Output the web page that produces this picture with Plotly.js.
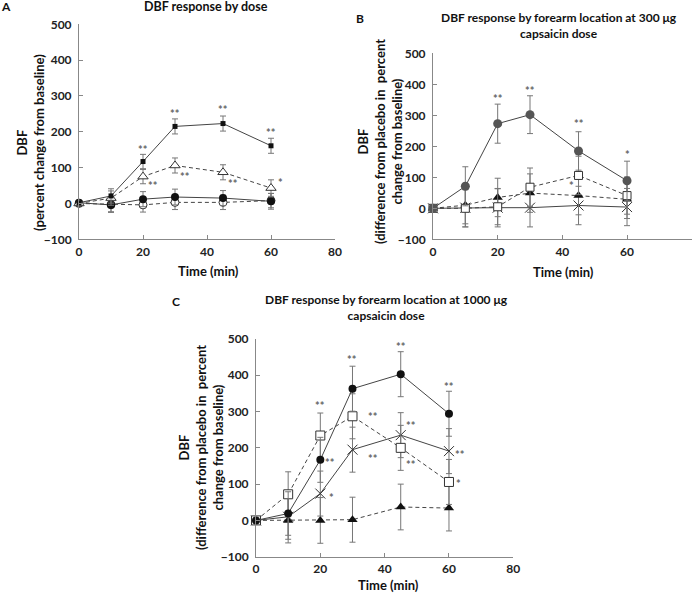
<!DOCTYPE html>
<html>
<head>
<meta charset="utf-8">
<script src="https://cdn.plot.ly/plotly-3.0.1.min.js"></script>
<style>
  html, body { margin: 0; padding: 0; background: #fff; }
  #myDiv { width: 697px; height: 596px; }
</style>
</head>
<body>
<div id="myDiv"></div>
<script>
// sampling times (min)
const timeMin = [0, 10, 20, 30, 45, 60];

// Panel A - DBF response by dose (percent change from baseline)
const aDose1 = [2, 21, 117, 215, 223, 161];
const aDose1Err = [0, 20, 20, 21, 21, 21];
const aDose2 = [0, 15, 75, 106, 87, 43];
const aDose2Err = [0, 20, 20, 21, 21, 23];
const aDose3 = [2, -4, 12, 18, 15, 6];
const aDose3Err = [0, 21, 21, 22, 21, 22];
const aPlacebo = [0, -3, -4, 3, 3, 8];
const aPlaceboErr = [0, 20, 20, 20, 20, 20];

// Panel B - by forearm location, 300 ug
const bLoc1 = [0, 71, 273, 302, 185, 89];
const bLoc1Err = [0, 63, 63, 61, 62, 63];
const bLoc2 = [0, 0, 5, 68, 106, 41];
const bLoc2Err = [0, 60, 58, 62, 62, 60];
const bLoc3 = [0, 10, 35, 49, 41, 29];
const bLoc3Err = [0, 60, 62, 62, 62, 62];
const bLoc4 = [0, 2, 2, 2, 9, 4];
const bLoc4Err = [0, 62, 62, 62, 62, 60];

// Panel C - by forearm location, 1000 ug
const cLoc1 = [0, 19, 167, 363, 403, 294];
const cLoc1Err = [0, 60, 62, 62, 62, 62];
const cLoc2 = [0, 72, 234, 287, 200, 106];
const cLoc2Err = [0, 62, 62, 62, 62, 62];
const cLoc3 = [0, 10, 74, 195, 235, 191];
const cLoc3Err = [0, 62, 62, 62, 62, 62];
const cLoc4 = [0, 0, 0, 2, 37, 34];
const cLoc4Err = [0, 62, 63, 62, 63, 63];

// significance marks (time, value, label)
const aStarT = [20, 30, 45, 60, 23.2, 33.1, 48.2, 63.1];
const aStarV = [150, 252, 262, 197, 49, 75, 57, 59];
const aStarL = ['**', '**', '**', '**', '**', '**', '**', '*'];
const bStarT = [20, 30, 45, 60, 42.8];
const bStarV = [355, 380, 274, 175, 73];
const bStarL = ['**', '**', '**', '*', '*'];
const cStarT = [20, 23, 23.6, 30, 36.5, 36.5, 45, 48.1, 48.1, 60, 63.5, 63];
const cStarV = [318, 160, 64, 443, 286, 170, 479, 261, 153, 369, 183, 103];
const cStarL = ['**', '**', '*', '**', '**', '**', '**', '**', '**', '**', '**', '*'];

const W = 697, H = 596;
const px = x => x / W;
const py = y => 1 - y / H;
const FONT = 'Lato, "Open Sans", sans-serif';

const makeTrace = (ax, y, err, dash, marker) => ({
    x: timeMin,
    y: y,
    xaxis: 'x' + ax,
    yaxis: 'y' + ax,
    type: 'scatter',
    mode: 'lines+markers',
    cliponaxis: false,
    showlegend: false,
    line: { color: '#444', width: 1, dash: dash },
    marker: marker,
    error_y: { type: 'data', array: err, visible: true, color: '#777', thickness: 1, width: 3 }
});

const filled = (symbol, size, color) => ({ symbol: symbol, size: size, color: color, line: { width: 0 } });
const open = (symbol, size) => ({ symbol: symbol, size: size, color: '#fff', line: { color: '#333', width: 1 } });
const cross = { symbol: 'x-thin-open', size: 10, color: '#333', line: { color: '#333', width: 1 } };
const DASH = '4px,3px';

const data = [
    makeTrace('', aPlacebo, aPlaceboErr, DASH, open('circle', 8)),
    makeTrace('', aDose3, aDose3Err, 'solid', filled('circle', 8, '#111')),
    makeTrace('', aDose2, aDose2Err, DASH, open('triangle-up', 9)),
    makeTrace('', aDose1, aDose1Err, 'solid', filled('square', 5, '#111')),

    makeTrace('2', bLoc4, bLoc4Err, 'solid', cross),
    makeTrace('2', bLoc3, bLoc3Err, DASH, filled('triangle-up', 9, '#111')),
    makeTrace('2', bLoc2, bLoc2Err, DASH, open('square', 8)),
    makeTrace('2', bLoc1, bLoc1Err, 'solid', filled('circle', 9, '#555')),

    makeTrace('3', cLoc4, cLoc4Err, DASH, filled('triangle-up', 9, '#111')),
    makeTrace('3', cLoc3, cLoc3Err, 'solid', cross),
    makeTrace('3', cLoc2, cLoc2Err, DASH, open('square', 9)),
    makeTrace('3', cLoc1, cLoc1Err, 'solid', filled('circle', 8, '#111'))
];

const axisBase = {
    showline: true,
    linecolor: '#888',
    linewidth: 1,
    ticks: 'inside',
    ticklen: 4,
    tickcolor: '#888',
    showgrid: false,
    zeroline: false,
    fixedrange: true,
    tickfont: { family: FONT, size: 12, weight: 'bold', color: '#222' }
};
const xAxis = (domain, anchor) => Object.assign({}, axisBase, { domain: domain, anchor: anchor, range: [0, 80], dtick: 20, ticklabelstandoff: 1 });
const yAxis = (domain, anchor) => Object.assign({}, axisBase, { domain: domain, anchor: anchor, range: [-100, 500], dtick: 100, ticklabelstandoff: 4 });

const label = (x, y, text, size, extra) => Object.assign({
    xref: 'paper', yref: 'paper', x: px(x), y: py(y), text: text, showarrow: false,
    xanchor: 'center', yanchor: 'middle',
    font: { family: FONT, size: size, weight: 'bold', color: '#111' }
}, extra || {});

const starNotes = (ax, ts, vs, ls) => ts.map((t, i) => ({
    xref: 'x' + ax, yref: 'y' + ax, x: t, y: vs[i], text: ls[i], showarrow: false,
    font: { family: FONT, size: 11, weight: 'bold', color: '#666' }
}));

const annotations = [
    label(6, 7, 'A', 12),
    label(360, 18, 'B', 12),
    label(176, 301, 'C', 12),
    label(206, 7, 'DBF response by dose', 12.5),
    label(559, 25.5, 'DBF response by forearm location at 300 μg<br>capsaicin dose', 12),
    label(386, 307, 'DBF response by forearm location at 1000 μg<br>capsaicin dose', 12),
    label(208, 271, 'Time (min)', 13),
    label(563, 272, 'Time (min)', 13),
    label(388, 585, 'Time (min)', 13),
    label(31, 143, 'DBF<br>(percent change from baseline)', 13, { textangle: -90 }),
    label(380, 142, 'DBF<br>(difference from placebo in  percent<br>change from baseline)', 13, { textangle: -90 }),
    label(201, 448, 'DBF<br>(difference from placebo in  percent<br>change from baseline)', 13, { textangle: -90 })
].concat(starNotes('', aStarT, aStarV, aStarL))
 .concat(starNotes('2', bStarT, bStarV, bStarL))
 .concat(starNotes('3', cStarT, cStarV, cStarL));

const layout = {
    width: W,
    height: H,
    margin: { l: 0, r: 0, t: 0, b: 0 },
    paper_bgcolor: '#fff',
    plot_bgcolor: '#fff',
    showlegend: false,
    xaxis: xAxis([px(79), px(335)], 'y'),
    yaxis: yAxis([py(239.3), py(24.3)], 'x'),
    xaxis2: xAxis([px(433), px(691.7)], 'y2'),
    yaxis2: yAxis([py(239.3), py(53.3)], 'x2'),
    xaxis3: xAxis([px(256), px(513.3)], 'y3'),
    yaxis3: yAxis([py(556.7), py(339)], 'x3'),
    annotations: annotations
};

Plotly.newPlot('myDiv', data, layout, { staticPlot: true });
</script>
</body>
</html>
